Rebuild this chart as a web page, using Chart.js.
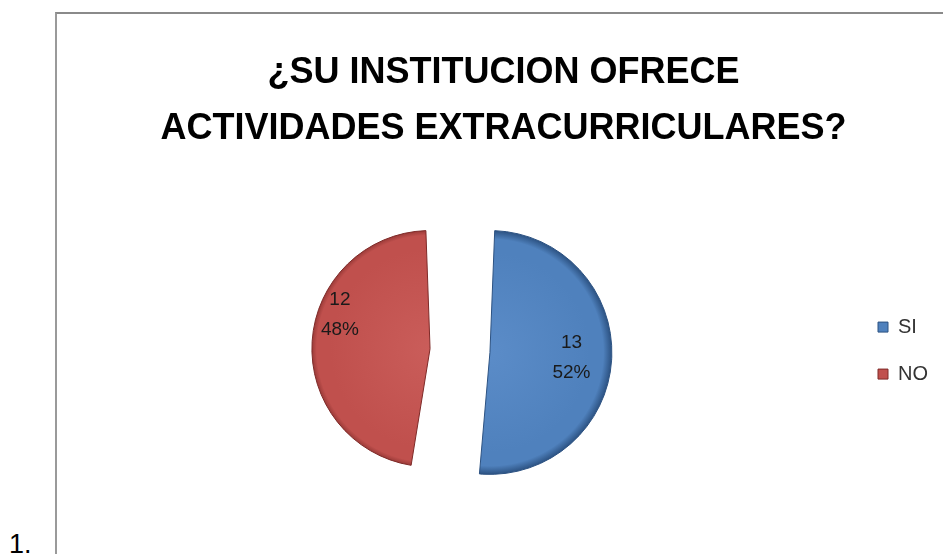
<!DOCTYPE html>
<html>
<head>
<meta charset="utf-8">
<script src="https://cdn.jsdelivr.net/npm/chart.js@4.4.1/dist/chart.umd.min.js"></script>
<style>
    html, body { margin: 0; padding: 0; background: #ffffff; overflow: hidden; }
    #marco { position: absolute; left: 55px; top: 12px; width: 900px; height: 560px;
             border-left: 2px solid #9a9a9a; border-top: 2px solid #8a8a8a; }
    #numero { position: absolute; left: 9px; top: 529px; color: #000;
              font: 27px "Liberation Sans", Arial, sans-serif; }
    #caja { position: absolute; left: 0; top: 0; width: 943px; height: 554px; }
</style>
</head>
<body>
<div id="marco"></div>
<div id="numero">1.</div>
<div id="caja"><canvas id="chartInstitucion"></canvas></div>
<script>
// datos
var categorias = ['SI', 'NO'];
var cantidades = [13, 12];
var tituloLineas = ['¿SU INSTITUCION OFRECE', 'ACTIVIDADES EXTRACURRICULARES?'];

// colores (estilo Excel 2007)
var coloresBase = ['#4F81BD', '#C0504D'];
var coloresClaros = ['#5b8cc8', '#ca5d5a'];
var coloresOscuros = ['#2c5282', '#7e2a28'];

var total = cantidades.reduce(function (a, b) { return a + b; }, 0);

// ============================
// ETIQUETAS DE DATOS (valor + %)
// ============================
var etiquetasPlugin = {
    id: 'etiquetas',
    afterDatasetsDraw: function (chart, args, opts) {
        var meta = chart.getDatasetMeta(0);
        var ctx = chart.ctx;
        ctx.save();
        ctx.font = '19px "Liberation Sans", Arial, sans-serif';
        ctx.fillStyle = '#1a1a1a';
        ctx.textAlign = 'center';
        ctx.textBaseline = 'middle';
        meta.data.forEach(function (arc, i) {
            var p = arc.getProps(['x', 'y', 'startAngle', 'endAngle', 'outerRadius'], true);
            var medio = (p.startAngle + p.endAngle) / 2;
            var desp = (arc.options.offset || 0) / 4;
            var cx = p.x + Math.cos(medio) * desp;
            var cy = p.y + Math.sin(medio) * desp;
            var ang = medio + opts.giro[i] * Math.PI / 180;
            var r = (p.outerRadius + desp) * opts.radio[i];
            var x = cx + Math.cos(ang) * r;
            var y = cy + Math.sin(ang) * r;
            var pct = Math.round(cantidades[i] / total * 100) + '%';
            ctx.fillText(String(cantidades[i]), x, y - 15);
            ctx.fillText(pct, x, y + 15);
        });
        ctx.restore();
    }
};

function colorRelleno(contexto) {
    var chart = contexto.chart;
    var area = chart.chartArea;
    var i = contexto.dataIndex;
    if (!area) return coloresBase[i];
    var meta = chart.getDatasetMeta(0);
    var r = (meta.controller.outerRadius || 90) + 30;
    var cx = (area.left + area.right) / 2;
    var cy = (area.top + area.bottom) / 2;
    var g = chart.ctx.createRadialGradient(cx, cy, 0, cx, cy, r);
    g.addColorStop(0, coloresClaros[i]);
    g.addColorStop(0.82, coloresBase[i]);
    g.addColorStop(0.93, coloresBase[i]);
    g.addColorStop(1, coloresOscuros[i]);
    return g;
}

var ctxPie = document.getElementById('chartInstitucion');

var graficoPie = new Chart(ctxPie, {
    type: 'pie',
    data: {
        labels: categorias,
        datasets: [{
            data: cantidades,
            backgroundColor: colorRelleno,
            borderColor: coloresOscuros,
            borderWidth: 1,
            offset: 120,
            hoverOffset: 0
        }]
    },
    options: {
        responsive: true,
        maintainAspectRatio: false,
        animation: false,
        events: [],
        layout: {
            padding: { left: 69, right: 5, top: 0, bottom: 51 }
        },
        plugins: {
            title: {
                display: true,
                text: tituloLineas,
                color: '#000000',
                font: { family: '"Liberation Sans", Arial, sans-serif', size: 36, weight: 'bold', lineHeight: 1.53 },
                padding: { top: 46, bottom: 42 }
            },
            legend: {
                position: 'right',
                fullSize: false,
                align: 'center',
                labels: {
                    color: '#333333',
                    boxWidth: 10,
                    boxHeight: 10,
                    padding: 27,
                    font: { family: '"Liberation Sans", Arial, sans-serif', size: 20 },
                    generateLabels: function (chart) {
                        var items = Chart.overrides.pie.plugins.legend.labels.generateLabels(chart);
                        items.forEach(function (it, i) {
                            it.fillStyle = coloresBase[i];
                            it.strokeStyle = coloresOscuros[i];
                            it.lineWidth = 1;
                        });
                        return items;
                    }
                }
            },
            tooltip: { enabled: false },
            etiquetas: {
                giro: [0, 17],
                radio: [0.67, 0.79]
            }
        }
    },
    plugins: [etiquetasPlugin]
});
</script>
</body>
</html>
